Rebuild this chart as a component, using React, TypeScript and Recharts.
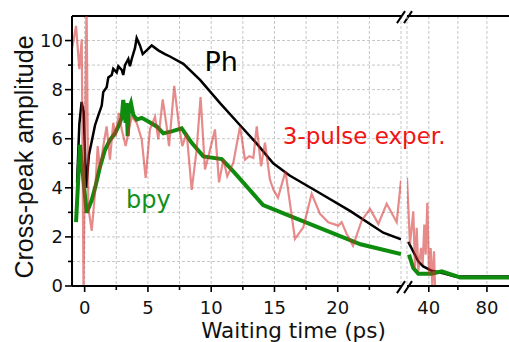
import React from 'react';
import { LineChart, Line, XAxis, YAxis, CartesianGrid, ReferenceLine, ReferenceDot, Label } from 'recharts';

type Pt = [number, number];

// waiting time (ps), cross-peak amplitude — early window (-1 .. 25 ps)
const PH_SHORT: Pt[] = [
  [-0.6, 4.2], [-0.42, 6.6], [-0.24, 7.5], [-0.08, 7.1], [0.12, 4.0], [0.34, 5.35], [0.56, 5.9],
  [0.82, 6.55], [1.08, 6.95], [1.35, 7.35], [1.47, 7.9], [1.74, 8.1], [1.87, 8.5], [2.14, 8.6],
  [2.26, 8.85], [2.53, 8.7], [2.66, 8.95], [2.93, 8.8], [3.05, 8.6], [3.19, 9.0], [3.45, 9.25],
  [3.58, 8.95], [3.72, 9.25], [3.98, 9.7], [4.11, 10.1], [4.37, 9.8], [4.59, 9.45], [4.9, 9.6],
  [5.3, 9.8], [5.82, 9.6], [6.35, 9.45], [6.74, 9.35], [7.8, 9.05], [9.12, 8.4], [10.7, 7.45],
  [12.28, 6.55], [13.6, 5.8], [14.9, 5.0], [16.2, 4.5], [18.3, 3.87], [21, 3.05], [23.6, 2.17], [25, 1.9],
];
const BPY_SHORT: Pt[] = [
  [-0.68, 2.6], [-0.37, 5.75], [0.16, 2.98], [0.56, 3.5], [0.85, 4.05], [1.21, 4.85], [1.61, 5.55],
  [2.0, 5.95], [2.4, 6.22], [2.66, 6.5], [2.93, 6.85], [3.05, 7.58], [3.24, 6.65], [3.32, 7.45],
  [3.4, 6.1], [3.5, 7.2], [3.66, 7.45], [3.84, 6.98], [4.11, 6.78], [4.51, 6.85], [5.03, 6.7],
  [5.69, 6.5], [6.22, 6.22], [6.88, 6.3], [7.67, 6.42], [8.46, 5.83], [9.38, 5.28], [10.83, 5.17],
  [11.75, 4.67], [12.8, 4.06], [14.1, 3.3], [16.5, 2.8], [21.8, 1.7], [25, 1.3],
];
const EXP_SHORT: Pt[] = [
  [-1.0, 0], [-1.0, 9.65], [-0.68, 10.6], [-0.42, 8.83], [-0.23, 10.05], [-0.09, 0], [0.15, 11.5],
  [0.29, 3.2], [0.56, 2.25], [0.82, 3.8], [1.03, 5.7], [1.21, 4.75], [1.47, 5.7], [1.74, 6.5],
  [2.0, 5.15], [2.26, 6.65], [2.45, 6.1], [2.71, 7.05], [2.93, 6.38], [3.24, 5.7], [3.72, 6.9],
  [4.11, 6.65], [4.51, 5.97], [4.82, 4.4], [5.16, 6.38], [5.56, 6.9], [5.82, 5.97], [6.17, 7.6],
  [6.48, 6.5], [6.67, 5.7], [7.08, 8.15], [7.46, 6.5], [7.72, 5.7], [8.06, 6.24], [8.46, 3.92],
  [8.85, 5.55], [9.16, 7.7], [9.51, 4.75], [9.85, 5.43], [10.3, 6.38], [10.62, 4.22], [10.96, 5.15],
  [11.27, 4.47], [11.75, 5.02], [12.28, 6.5], [12.67, 5.15], [13.01, 5.29], [13.33, 5.22], [13.6, 6.5],
  [13.94, 4.88], [14.25, 5.84], [14.64, 4.34], [14.91, 3.93], [15.28, 3.6], [15.87, 4.67], [16.62, 1.92],
  [17.28, 2.39], [17.94, 3.76], [18.6, 2.94], [19.25, 2.6], [20.05, 2.46], [20.31, 2.6], [20.71, 2.12],
  [21.21, 1.64], [21.9, 2.67], [22.55, 3.14], [23.21, 2.53], [23.87, 3.35], [24.66, 2.6], [25, 4.3],
];

// late window (25 .. 100 ps)
const PH_LONG: Pt[] = [[25.9, 1.8], [32.8, 1.0], [36.2, 0.8], [42, 0.62], [50, 0.52], [58, 0.39], [100, 0.39]];
const BPY_LONG: Pt[] = [[26.4, 1.28], [29.3, 0.73], [32.8, 0.5], [42, 0.5], [48.9, 0.6], [55.8, 0.46], [61.5, 0.35], [100, 0.35]];
const EXP_LONG: Pt[] = [
  [25, 4.4], [27.06, 1.69], [29.33, 3.04], [30.5, 0.73], [31.67, 2.37], [32.77, 0.6], [34.63, 1.55],
  [35.8, 0.87], [36.9, 2.5], [37.87, 1.28], [38.97, 3.39], [40.14, 0.46], [41.3, 1.55], [42.4, 0],
  [43.58, 1.41], [44.27, 0],
];

const SHORT_TICKS = [0, 2.5, 5, 7.5, 10, 12.5, 15, 17.5, 20, 22.5];
const SHORT_LABELS = [0, 5, 10, 15, 20];
const LONG_TICKS = [40, 60, 80];
const LONG_LABELS = [40, 80];
const Y_TICKS = [0, 1, 2, 3, 4, 5, 6, 7, 8, 9, 10];
const Y_LABELS = [0, 2, 4, 6, 8, 10];

const SHORT_DOMAIN: [number, number] = [-1, 25];
const LONG_DOMAIN: [number, number] = [25, 100];
const Y_DOMAIN: [number, number] = [0, 11];

// annotation anchors (data coordinates of early window)
const ANNOTATIONS = [
  { text: 'Ph', t: 9.47, v: 8.77, color: '#000000', size: 27 },
  { text: '3-pulse exper.', t: 15.66, v: 5.79, color: '#f01414', size: 23 },
  { text: 'bpy', t: 3.27, v: 3.17, color: '#12901a', size: 24 },
];

// axis-break slashes, early-window data coordinates
const BREAK_SLASHES: { x1: number; y1: number; x2: number; y2: number }[] = [
  { x1: 24.68, y1: 10.71, x2: 25.32, y2: 11.2 },
  { x1: 25.24, y1: 10.71, x2: 25.87, y2: 11.2 },
  { x1: 24.68, y1: -0.29, x2: 25.32, y2: 0.2 },
  { x1: 25.24, y1: -0.29, x2: 25.87, y2: 0.2 },
];

const rows = (pts: Pt[]) => pts.map(([t, v]) => ({ t, v }));

const TICK_FONT = { fontFamily: '"DejaVu Sans", sans-serif', fontSize: 18, fill: '#111' };
const GRID = { stroke: '#c6c6c6', strokeDasharray: '3 2' };

const makeXTick = (labels: number[]) => (props: any) => {
  const { x, y, payload } = props;
  const major = labels.includes(payload.value);
  return (
    <g>
      <line x1={x} y1={y} x2={x} y2={y + (major ? 6 : 4)} stroke="#000" strokeWidth={1.6} />
      {major ? (
        <text x={x} y={y + 15} dy="0.71em" textAnchor="middle" {...TICK_FONT}>
          {payload.value}
        </text>
      ) : null}
    </g>
  );
};

const YTick = (props: any) => {
  const { x, y, payload } = props;
  const major = Y_LABELS.includes(payload.value);
  return (
    <g>
      <line x1={x - (major ? 7 : 4)} y1={y} x2={x} y2={y} stroke="#000" strokeWidth={1.6} />
      {major ? (
        <text x={x - 9} y={y} dy="0.36em" textAnchor="end" {...TICK_FONT}>
          {payload.value}
        </text>
      ) : null}
    </g>
  );
};

const series = (short: boolean) => {
  const ph = short ? PH_SHORT : PH_LONG;
  const bpy = short ? BPY_SHORT : BPY_LONG;
  const exp = short ? EXP_SHORT : EXP_LONG;
  return [
    <Line key="ph" data={rows(ph)} dataKey="v" type="linear" stroke="#000" strokeWidth={2.5} dot={false} isAnimationActive={false} />,
    <Line key="bpy" data={rows(bpy)} dataKey="v" type="linear" stroke="#0e8c0e" strokeWidth={4} dot={false} isAnimationActive={false} />,
    <Line key="exp" data={rows(exp)} dataKey="v" type="linear" stroke="#d42a2a" strokeOpacity={0.55} strokeWidth={2.2} dot={false} isAnimationActive={false} />,
  ];
};

export default function App() {
  return (
    <div style={{ position: 'absolute', left: 0, top: 0, width: 509, height: 342, overflow: 'hidden', background: '#fff' }}>
      <div style={{ position: 'absolute', left: 0, top: 0 }}>
        <LineChart width={509} height={342} margin={{ top: 16, right: 108, bottom: 0, left: 0 }}>
          <CartesianGrid {...GRID} />
          <XAxis
            type="number"
            dataKey="t"
            domain={SHORT_DOMAIN}
            ticks={SHORT_TICKS}
            interval={0}
            allowDataOverflow
            height={56}
            tickSize={0}
            tickMargin={0}
            tickLine={false}
            axisLine={{ stroke: '#000', strokeWidth: 2 }}
            tick={makeXTick(SHORT_LABELS)}
          >
            <Label
              content={() => (
                <text x={293.5} y={337.5} textAnchor="middle" fontFamily='"DejaVu Sans", sans-serif' fontSize={21.5} fill="#111">
                  Waiting time (ps)
                </text>
              )}
            />
          </XAxis>
          <YAxis
            type="number"
            domain={Y_DOMAIN}
            ticks={Y_TICKS}
            interval={0}
            allowDataOverflow
            width={72}
            tickSize={0}
            tickMargin={0}
            tickLine={false}
            axisLine={{ stroke: '#000', strokeWidth: 2 }}
            tick={YTick}
          >
            <Label
              content={() => (
                <text transform="translate(33,157) rotate(-90)" x={0} y={0} textAnchor="middle" fontFamily='"Liberation Sans", Arial, sans-serif' fontSize={25} fill="#111">
                  Cross-peak amplitude
                </text>
              )}
            />
          </YAxis>
          <ReferenceLine y={11} stroke="#000" strokeWidth={2} />
          {series(true)}
          {BREAK_SLASHES.map((s, i) => (
            <ReferenceLine
              key={'b' + i}
              segment={[{ x: s.x1, y: s.y1 }, { x: s.x2, y: s.y2 }]}
              stroke="#000"
              strokeWidth={2}
              ifOverflow="visible"
            />
          ))}
          {ANNOTATIONS.map((a) => (
            <ReferenceDot
              key={a.text}
              x={a.t}
              y={a.v}
              r={0}
              fill="none"
              stroke="none"
              label={(p: any) => (
                <text x={p.viewBox.x} y={p.viewBox.y} fontFamily='"DejaVu Sans", sans-serif' fontSize={a.size} fill={a.color}>
                  {a.text}
                </text>
              )}
            />
          ))}
        </LineChart>
      </div>
      <div style={{ position: 'absolute', left: 0, top: 0 }}>
        <LineChart width={516} height={342} margin={{ top: 16, right: 0, bottom: 0, left: 407 }}>
          <CartesianGrid {...GRID} />
          <XAxis
            type="number"
            dataKey="t"
            domain={LONG_DOMAIN}
            ticks={LONG_TICKS}
            interval={0}
            allowDataOverflow
            height={56}
            tickSize={0}
            tickMargin={0}
            tickLine={false}
            axisLine={{ stroke: '#000', strokeWidth: 2 }}
            tick={makeXTick(LONG_LABELS)}
          />
          <YAxis
            type="number"
            domain={Y_DOMAIN}
            ticks={Y_TICKS}
            interval={0}
            allowDataOverflow
            width={0}
            tick={false}
            tickLine={false}
            axisLine={false}
          />
          <ReferenceLine y={11} stroke="#000" strokeWidth={2} />
          {series(false)}
        </LineChart>
      </div>
    </div>
  );
}
